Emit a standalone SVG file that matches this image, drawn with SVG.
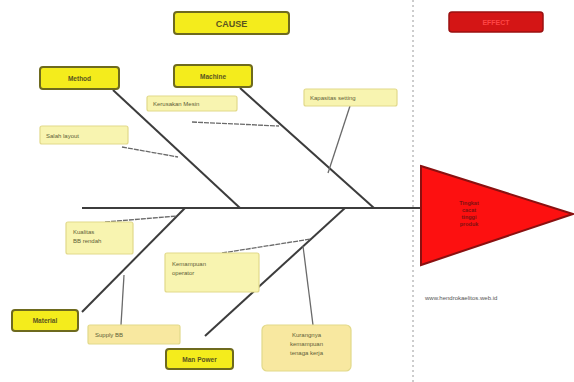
<svg xmlns="http://www.w3.org/2000/svg" width="574" height="382" viewBox="0 0 574 382">
<style>
.main rect{fill:#f4ec1c;stroke:#6e6a1e;stroke-width:2}
.main text{font-family:"Liberation Sans",Arial,sans-serif;font-size:6.5px;font-weight:bold;fill:#5a5520;text-anchor:middle}
.sub rect{fill:#f8f4b0;stroke:#e2d98a;stroke-width:1.2}
.sub text{font-family:"Liberation Sans",Arial,sans-serif;font-size:6px;fill:#5e5e38}
.bone{stroke:#3c3c3c;stroke-width:2;fill:none}
.twig{stroke:#6a6a6a;stroke-width:1.3;fill:none}
</style>
<rect width="574" height="382" fill="#ffffff"/>
<line x1="413" y1="0" x2="413" y2="382" stroke="#9a9a9a" stroke-width="1" stroke-dasharray="2,3"/>

<g id="cause" class="main">
<rect x="174" y="12" width="115" height="22" rx="3"/>
<text x="231.5" y="26.5" style="font-size:9px;fill:#5a5520">CAUSE</text>
</g>
<g id="effect-label">
<rect x="449" y="12" width="94" height="20" rx="3" fill="#d41515" stroke="#9a1010" stroke-width="1.5"/>
<text x="496" y="25" font-family="Liberation Sans, Arial, sans-serif" font-size="7" font-weight="bold" fill="#ff4545" text-anchor="middle">EFFECT</text>
</g>

<g id="connectors">
<line class="bone" x1="82" y1="208" x2="421" y2="208"/>
<line class="bone" x1="113" y1="90" x2="240" y2="208"/>
<line class="bone" x1="240" y1="88" x2="374" y2="208"/>
<line class="bone" x1="82" y1="312" x2="185" y2="208"/>
<line class="bone" x1="205" y1="336" x2="345" y2="208"/>
<line class="twig" x1="192" y1="122" x2="279" y2="126" stroke-dasharray="5,1"/>
<line class="twig" x1="350" y1="106" x2="328" y2="173"/>
<line class="twig" x1="122" y1="147" x2="178" y2="157" stroke-dasharray="5,1"/>
<line class="twig" x1="105" y1="222" x2="177" y2="216" stroke-dasharray="5,1"/>
<line class="twig" x1="222" y1="253" x2="311" y2="239" stroke-dasharray="5,1"/>
<line class="twig" x1="121" y1="325" x2="124" y2="275"/>
<line class="twig" x1="313" y1="325" x2="303" y2="246"/>
</g>

<g id="effect">
<polygon points="421,166 573,214 421,265" fill="#fd1010" stroke="#8a1010" stroke-width="2"/>
<text font-family="Liberation Sans, Arial, sans-serif" font-size="5.5" font-weight="bold" fill="#801010" text-anchor="middle">
<tspan x="469" y="205">Tingkat</tspan><tspan x="469" y="212">cacat</tspan><tspan x="469" y="219">tinggi</tspan><tspan x="469" y="226">produk</tspan>
</text>
</g>

<g id="method" class="main"><rect x="40" y="67" width="79" height="22" rx="3"/><text x="79.5" y="80.5">Method</text></g>
<g id="machine" class="main"><rect x="174" y="65" width="78" height="22" rx="3"/><text x="213" y="78.5">Machine</text></g>
<g id="material" class="main"><rect x="12" y="310" width="66" height="21" rx="3"/><text x="45" y="323">Material</text></g>
<g id="manpower" class="main"><rect x="166" y="349" width="67" height="20" rx="3"/><text x="199.5" y="361.5">Man Power</text></g>

<g id="kerusakan" class="sub"><rect x="147" y="96" width="90" height="15" rx="2"/><text x="153" y="106">Kerusakan Mesin</text></g>
<g id="kapasitas" class="sub"><rect x="304" y="89" width="93" height="17" rx="2"/><text x="310" y="100">Kapasitas setting</text></g>
<g id="salah" class="sub"><rect x="40" y="126" width="88" height="18" rx="2"/><text x="46" y="137.5">Salah layout</text></g>
<g id="kualitas" class="sub"><rect x="66" y="222" width="67" height="32" rx="2"/><text x="73" y="234">Kualitas</text><text x="73" y="243">BB rendah</text></g>
<g id="kemampuan" class="sub"><rect x="165" y="253" width="94" height="39" rx="2"/><text x="172" y="266">Kemampuan</text><text x="172" y="275">operator</text></g>
<g id="supply" class="sub"><rect x="88" y="325" width="92" height="19" rx="2" style="fill:#f8e8a0"/><text x="95" y="337">Supply BB</text></g>
<g id="kurangnya" class="sub"><rect x="262" y="325" width="89" height="46" rx="5" style="fill:#f8e8a0"/><text x="306.5" y="337" text-anchor="middle">Kurangnya</text><text x="306.5" y="346" text-anchor="middle">kemampuan</text><text x="306.5" y="355" text-anchor="middle">tenaga kerja</text></g>

<text x="425" y="300" font-family="Liberation Sans, Arial, sans-serif" font-size="6" fill="#555">www.hendrokaelitos.web.id</text>
</svg>
